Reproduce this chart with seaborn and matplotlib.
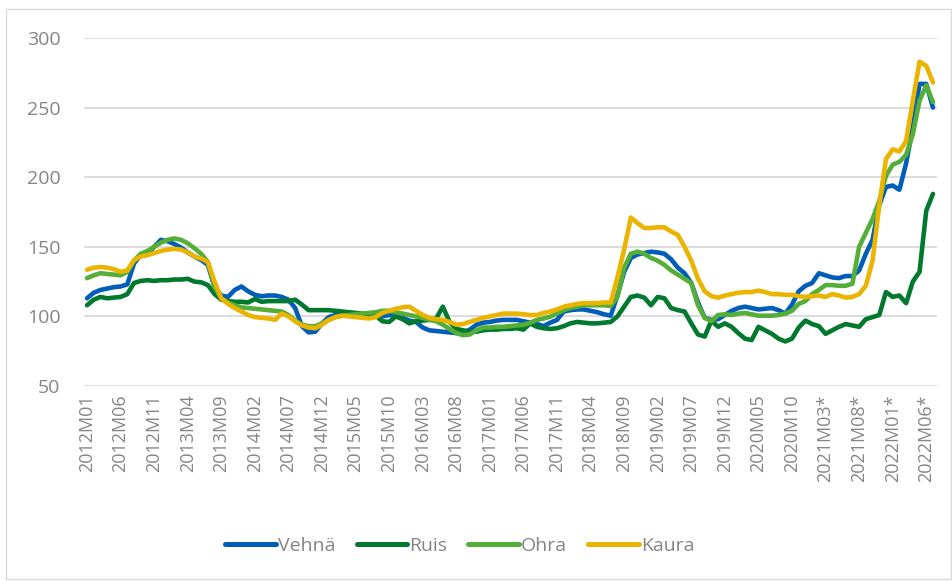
import numpy as np
import pandas as pd
import matplotlib
matplotlib.use('Agg')  # piirto tiedostoon ilman näyttöä
import matplotlib.pyplot as plt
import matplotlib.patches as mpatches
import seaborn as sns

# Kuukaudet 2012M01 - 2022M07, vuodesta 2021 ennakkotiedot (*)
kuukaudet = []
for vuosi in range(2012, 2023):
    for kk in range(1, 13):
        if vuosi == 2022 and kk > 7:
            break
        merkki = f"{vuosi}M{kk:02d}"
        if vuosi >= 2021:
            merkki += "*"
        kuukaudet.append(merkki)

vehna = [
    113, 117, 119, 120, 121, 121.5, 123, 138, 144, 145, 150, 155,
    154, 152, 149.5, 146, 143, 140.5, 137, 121, 115, 114, 119, 121.5,
    118, 115.5, 114.5, 115, 115, 114, 112, 106, 93, 88.5, 89, 95,
    99.5, 101, 101, 101, 101, 101, 100.5, 100, 100, 101, 100, 99,
    97, 96, 92, 90, 89.5, 89, 88.5, 88, 88.5, 90.5, 94, 95.5,
    96, 97, 97.5, 97.5, 97.5, 96.5, 95.5, 94.5, 93, 95.5, 97.5, 103.5,
    104.5, 105, 105, 104, 103, 101.5, 100.5, 115, 132, 142, 144.5, 145.5,
    146.5, 146, 145, 141, 135, 131, 124, 110, 99, 97.5, 98, 101,
    104, 106, 107, 106, 105, 105.5, 106, 104.5, 102, 108.5, 118, 122,
    124, 131, 129.5, 128, 127.5, 129, 129, 133, 145, 155, 180, 193,
    194, 191, 210, 236, 267, 267, 250,
]
ruis = [
    108, 112, 114, 113, 113.5, 114, 116, 124, 125.5, 126, 125.5, 126,
    126, 126.5, 126.5, 127, 125, 124.5, 122.5, 116, 112, 111, 110.5, 110.5,
    110, 112.5, 110.5, 111, 111, 111, 111, 112, 108.5, 104.5, 104.5, 104.5,
    104.5, 104, 103.5, 103, 102.5, 102, 101.5, 100.5, 96.5, 96, 100, 98,
    95, 96.5, 97, 97.5, 98.5, 107, 96, 91, 90, 89, 89, 90,
    90.5, 90.5, 91, 91, 91.5, 90.5, 95, 92.5, 91.5, 91, 91.5, 93,
    95, 96, 95.5, 95, 95, 95.5, 96, 100, 107, 114, 115, 113.5,
    108, 114, 113, 106, 104.5, 103.5, 95, 87, 85.5, 97, 92.5, 95,
    92.5, 88, 84, 83, 92.5, 90, 87.5, 84, 82, 84, 92, 97,
    94.5, 93, 87.5, 90, 92.5, 94.5, 93.5, 92.5, 98, 99.5, 101, 117.5,
    114, 115, 109.5, 125, 132, 176, 188,
]
ohra = [
    127.5, 129.5, 131, 130.5, 130, 129.5, 132, 140, 145, 147, 150, 153,
    155, 156, 155, 152.5, 149, 145, 139, 121, 113, 110, 108, 106.5,
    106, 105.5, 105, 104.5, 104, 103.5, 101, 97, 94, 93, 93, 95,
    97.5, 99.5, 100.5, 101, 101.5, 102, 102.5, 103, 104, 104, 103, 102,
    101, 100, 99, 97.5, 96.5, 94, 91, 88, 86.5, 87, 90, 92,
    92, 92.5, 92.5, 93, 93.5, 94, 95.5, 97.5, 98.5, 99.8, 102, 104.5,
    106, 107, 108, 108, 108, 108, 107.5, 114, 135, 145, 146.5, 145,
    142, 140, 137, 133, 130, 127, 124, 108, 99, 96.5, 101, 101.5,
    101, 102, 102.5, 101.5, 100.5, 100.5, 100.5, 101, 102, 104, 109, 111,
    116, 119, 122.5, 122.5, 122, 122, 123.5, 150, 160, 170, 183, 201,
    209, 211, 216, 231, 255, 266, 254,
]
kaura = [
    133.5, 135, 135.5, 135, 134, 132, 133, 140.5, 143, 144, 145.5, 147,
    148, 148.5, 148, 146, 143, 141.5, 139, 125, 113, 109, 106, 103.5,
    101, 99.5, 99, 98.5, 97.5, 102, 100, 96.5, 93.5, 92, 91.5, 94,
    97.5, 99.5, 100.5, 100, 99.5, 99, 98.5, 99.5, 102.5, 104, 105.5, 106.5,
    107, 104, 101, 99, 98, 97.5, 96, 94, 94.5, 96, 97.5, 99,
    100, 101, 102, 102, 102, 101.5, 101, 101, 102.5, 103.5, 105, 107,
    108, 109, 109.5, 109.5, 109.5, 110, 110, 128, 148, 171, 167, 163.5,
    163.5, 164, 164, 161, 158.5, 150, 140, 127, 118, 114.5, 113.5, 115,
    116, 117, 117.5, 117.5, 118.5, 117.5, 116, 116, 115.5, 115.5, 114.5, 114,
    114.5, 115, 114, 116, 115, 113.5, 114, 116, 122, 140, 180, 213,
    220, 218.5, 226, 255, 283, 280, 268,
]

sarjat = ['Vehnä', 'Ruis', 'Ohra', 'Kaura']
varit = ['#005eb8', '#00792f', '#55ae37', '#ebb400']
y_tikit = [50, 100, 150, 200, 250, 300]

df = pd.DataFrame({'kk': np.arange(len(kuukaudet)), 'Vehnä': vehna,
                   'Ruis': ruis, 'Ohra': ohra, 'Kaura': kaura})
pitka = df.melt(id_vars='kk', var_name='Vilja', value_name='Indeksi')

sns.set_style('white')
plt.rcParams['font.family'] = ['Open Sans', 'DejaVu Sans']
harmaa = '#858585'

fig = plt.figure(figsize=(9.52, 5.81), dpi=100)
ax = fig.add_axes([84 / 952, 1 - 386 / 581, 853 / 952, 348 / 581])

sns.lineplot(data=pitka, x='kk', y='Indeksi', hue='Vilja', hue_order=sarjat,
             palette=varit, linewidth=3.3, ax=ax)
for viiva in ax.lines:
    viiva.set_solid_joinstyle('round')
    viiva.set_solid_capstyle('round')

ax.set_xlim(-0.45, len(kuukaudet) - 0.4)
ax.set_ylim(50, 300)
ax.set_yticks(y_tikit)
ax.set_xticks(range(0, len(kuukaudet), 5))
ax.set_xticklabels(kuukaudet[::5], rotation=90)
ax.set_xlabel('')
ax.set_ylabel('')
ax.tick_params(axis='y', length=0, pad=17, labelsize=14, labelcolor=harmaa)
ax.tick_params(axis='x', length=0, pad=6, labelsize=13, labelcolor=harmaa)
ax.yaxis.grid(True, color='#d9d9d9', linewidth=1.3)
ax.xaxis.grid(False)
ax.set_axisbelow(True)
sns.despine(ax=ax, left=True, bottom=True)

# Selite kuvan alaosaan
kahvat, nimet = ax.get_legend_handles_labels()
ax.get_legend().remove()
for k in kahvat:
    k.set_linewidth(3.6)
    k.set_solid_capstyle('round')
fig.legend(kahvat, nimet, loc='center', bbox_to_anchor=(0.483, 0.060), ncol=4,
           frameon=False, fontsize=14, handlelength=2.6, handletextpad=0.1,
           columnspacing=1.1, labelcolor=harmaa)

# Kaavioalueen reunaviiva
fig.patches.append(mpatches.Rectangle((6 / 952, 2 / 581), 945 / 952, 570 / 581,
                                      transform=fig.transFigure, fill=False,
                                      edgecolor='#d9d9d9', linewidth=1))

fig.savefig('out.png', dpi=100)
